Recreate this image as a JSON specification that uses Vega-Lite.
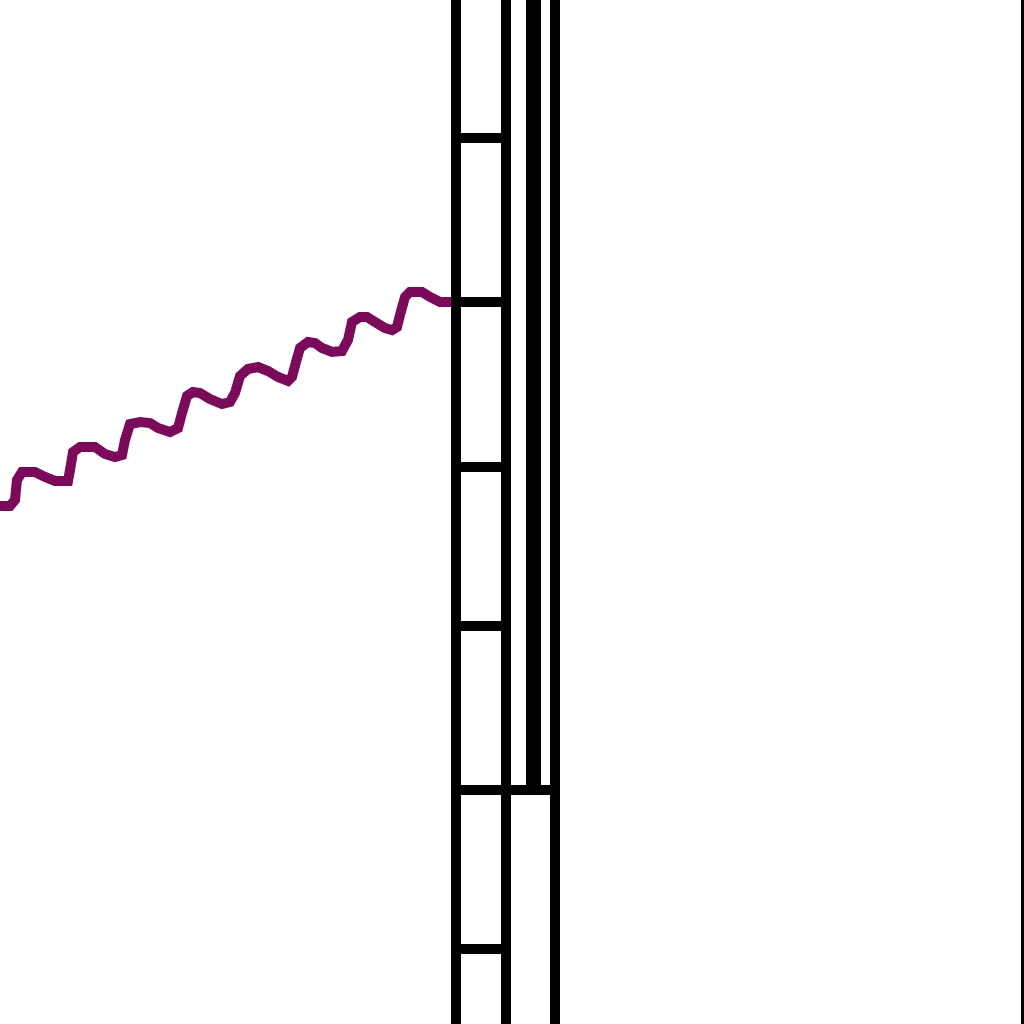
{
  "$schema": "https://vega.github.io/schema/vega-lite/v6.json",
  "width": 1024,
  "height": 1024,
  "padding": 0,
  "autosize": {"type": "none"},
  "background": "white",
  "config": {"view": {"stroke": null}},
  "datasets": {
    "wave": [
      {"t":0,"v":506},{"t":10,"v":506},{"t":15,"v":500},{"t":17,"v":480},{"t":22,"v":472},{"t":35,"v":472},{"t":45,"v":477},{"t":55,"v":481},{"t":68,"v":481},{"t":70,"v":470},{"t":73,"v":452},{"t":80,"v":447},{"t":95,"v":447},{"t":105,"v":454},{"t":115,"v":457},{"t":122,"v":455},{"t":125,"v":440},{"t":130,"v":424},{"t":140,"v":422},{"t":150,"v":423},{"t":158,"v":428},{"t":170,"v":432},{"t":178,"v":428},{"t":182,"v":413},{"t":187,"v":396},{"t":193,"v":392},{"t":200,"v":393},{"t":210,"v":399},{"t":222,"v":404},{"t":230,"v":402},{"t":235,"v":393},{"t":240,"v":376},{"t":248,"v":369},{"t":258,"v":367},{"t":268,"v":371},{"t":278,"v":377},{"t":288,"v":381},{"t":292,"v":377},{"t":296,"v":362},{"t":300,"v":348},{"t":308,"v":342},{"t":315,"v":343},{"t":322,"v":348},{"t":332,"v":352},{"t":342,"v":351},{"t":348,"v":340},{"t":352,"v":322},{"t":360,"v":317},{"t":367,"v":317},{"t":375,"v":322},{"t":385,"v":328},{"t":392,"v":330},{"t":397,"v":327},{"t":400,"v":315},{"t":405,"v":297},{"t":410,"v":292},{"t":422,"v":292},{"t":430,"v":297},{"t":440,"v":302},{"t":451,"v":302}
    ],
    "vthin": [
      {"t":456,"v1":0,"v2":1024},
      {"t":506,"v1":0,"v2":1024},
      {"t":555,"v1":0,"v2":1024}
    ],
    "vthick": [
      {"t":533.5,"v1":0,"v2":786}
    ],
    "edge": [
      {"t":1024,"v1":0,"v2":1024}
    ],
    "hrules": [
      {"t1":451,"t2":511,"v":138},
      {"t1":451,"t2":511,"v":302},
      {"t1":451,"t2":511,"v":467},
      {"t1":451,"t2":511,"v":626},
      {"t1":451,"t2":560,"v":790},
      {"t1":451,"t2":511,"v":949}
    ]
  },
  "layer": [
    {
      "data": {"name": "wave"},
      "mark": {"type": "line", "color": "#7b0a5a", "strokeWidth": 10, "strokeJoin": "miter", "strokeCap": "butt", "clip": true},
      "encoding": {
        "x": {"field": "t", "type": "quantitative", "scale": {"domain": [0, 1024], "nice": false, "zero": false}, "axis": null},
        "y": {"field": "v", "type": "quantitative", "scale": {"domain": [0, 1024], "reverse": true, "nice": false, "zero": false}, "axis": null}
      }
    },
    {
      "data": {"name": "vthin"},
      "mark": {"type": "rule", "color": "black", "strokeWidth": 10},
      "encoding": {
        "x": {"field": "t", "type": "quantitative", "scale": {"domain": [0, 1024], "nice": false, "zero": false}, "axis": null},
        "y": {"field": "v1", "type": "quantitative", "scale": {"domain": [0, 1024], "reverse": true, "nice": false, "zero": false}, "axis": null},
        "y2": {"field": "v2"}
      }
    },
    {
      "data": {"name": "vthick"},
      "mark": {"type": "rule", "color": "black", "strokeWidth": 15},
      "encoding": {
        "x": {"field": "t", "type": "quantitative", "axis": null},
        "y": {"field": "v1", "type": "quantitative", "axis": null},
        "y2": {"field": "v2"}
      }
    },
    {
      "data": {"name": "edge"},
      "mark": {"type": "rule", "color": "black", "strokeWidth": 6},
      "encoding": {
        "x": {"field": "t", "type": "quantitative", "axis": null},
        "y": {"field": "v1", "type": "quantitative", "axis": null},
        "y2": {"field": "v2"}
      }
    },
    {
      "data": {"name": "hrules"},
      "mark": {"type": "rule", "color": "black", "strokeWidth": 10},
      "encoding": {
        "x": {"field": "t1", "type": "quantitative", "axis": null},
        "x2": {"field": "t2"},
        "y": {"field": "v", "type": "quantitative", "axis": null}
      }
    }
  ]
}
